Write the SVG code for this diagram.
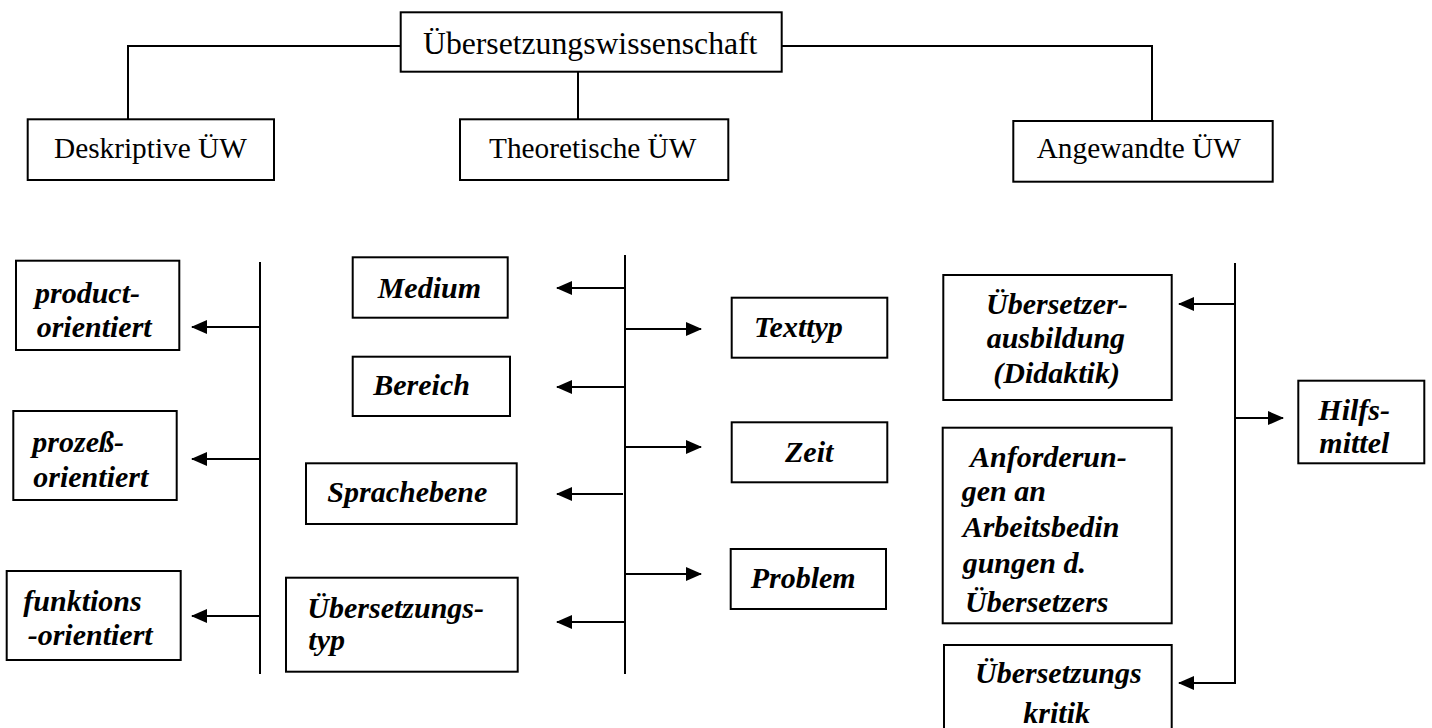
<svg xmlns="http://www.w3.org/2000/svg" width="1432" height="728" viewBox="0 0 1432 728">
<style>
.box{fill:#fff;stroke:#000;stroke-width:2}
.reg{font-family:"Liberation Serif","Times New Roman",serif;font-size:29.3px;fill:#000}
.bi{font-family:"Liberation Serif","Times New Roman",serif;font-size:30px;font-weight:bold;font-style:italic;fill:#000}
.ln{fill:none;stroke:#000;stroke-width:2}
.ar{fill:none;stroke:#000;stroke-width:2;marker-end:url(#ah)}
</style>
<defs>
<marker id="ah" markerUnits="userSpaceOnUse" markerWidth="16" markerHeight="14" refX="15" refY="7" orient="auto">
<path d="M0,0 L16,7 L0,14 Z" fill="#000"/>
</marker>
</defs>
<rect width="1432" height="728" fill="#fff"/>
<g id="connectors">
<path class="ln" d="M128,119 V46 H401"/>
<path class="ln" d="M578,72 V119"/>
<path class="ln" d="M782,46 H1152 V121"/>
<path class="ln" d="M260,262 V674"/>
<path class="ar" d="M260,327 H192"/>
<path class="ar" d="M260,459 H192"/>
<path class="ar" d="M260,616 H192"/>
<path class="ln" d="M625,255 V674"/>
<path class="ar" d="M625,288 H557"/>
<path class="ar" d="M625,387 H557"/>
<path class="ar" d="M623,494 H557"/>
<path class="ar" d="M625,622 H557"/>
<path class="ar" d="M625,329 H701"/>
<path class="ar" d="M625,447 H701"/>
<path class="ar" d="M625,574 H701"/>
<path class="ln" d="M1235,263 V684"/>
<path class="ar" d="M1235,304 H1179"/>
<path class="ar" d="M1235,683 H1179"/>
<path class="ar" d="M1235,418 H1283"/>
</g>
<g id="uew"><rect class="box" x="400.7" y="12.3" width="381" height="59.4"/><text class="reg" x="423" y="54" style="font-size:31.7px">Übersetzungswissenschaft</text></g>
<g id="deskriptiv"><rect class="box" x="27.7" y="119.3" width="246.3" height="60.7"/><text class="reg" x="54" y="158">Deskriptive ÜW</text></g>
<g id="theoretisch"><rect class="box" x="460" y="119.3" width="268.3" height="60.7"/><text class="reg" x="489" y="158">Theoretische ÜW</text></g>
<g id="angewandt"><rect class="box" x="1013.3" y="121" width="259.4" height="60.7"/><text class="reg" x="1036.7" y="158.3">Angewandte ÜW</text></g>
<g id="product"><rect class="box" x="16" y="260.7" width="163.3" height="89.3"/><text class="bi" x="35" y="303.3">product-</text><text class="bi" x="36.7" y="337.3">orientiert</text></g>
<g id="prozess"><rect class="box" x="13.3" y="411" width="163.4" height="89"/><text class="bi" x="32.3" y="451.7">prozeß-</text><text class="bi" x="33.3" y="487.3">orientiert</text></g>
<g id="funktion"><rect class="box" x="6.7" y="571" width="174" height="89"/><text class="bi" x="23.3" y="611">funktions</text><text class="bi" x="27.7" y="645">-orientiert</text></g>
<g id="medium"><rect class="box" x="352.7" y="257.3" width="155" height="60.4"/><text class="bi" x="377.7" y="298.3">Medium</text></g>
<g id="bereich"><rect class="box" x="352.7" y="356.7" width="157.3" height="59.3"/><text class="bi" x="373.3" y="395">Bereich</text></g>
<g id="sprachebene"><rect class="box" x="306" y="463.3" width="210.7" height="60.7"/><text class="bi" x="327.3" y="501.7">Sprachebene</text></g>
<g id="uetyp"><rect class="box" x="286" y="577.7" width="231.7" height="94"/><text class="bi" x="307.3" y="617.7">Übersetzungs-</text><text class="bi" x="308.3" y="650">typ</text></g>
<g id="texttyp"><rect class="box" x="731.7" y="297.7" width="155.6" height="60"/><text class="bi" x="754" y="337.3">Texttyp</text></g>
<g id="zeit"><rect class="box" x="731.7" y="422.3" width="155.6" height="60"/><text class="bi" x="785" y="461.7">Zeit</text></g>
<g id="problem"><rect class="box" x="730.7" y="549" width="155.3" height="60"/><text class="bi" x="750.7" y="588.3">Problem</text></g>
<g id="ausbildung"><rect class="box" x="943.3" y="275" width="228.4" height="125"/><text class="bi" x="986" y="314">Übersetzer-</text><text class="bi" x="986.7" y="348">ausbildung</text><text class="bi" x="993.3" y="382.5">(Didaktik)</text></g>
<g id="anforderungen"><rect class="box" x="942.7" y="427.7" width="229" height="195.6"/><text class="bi" x="970" y="466.7">Anforderun-</text><text class="bi" x="961.7" y="500.7">gen an</text><text class="bi" x="962.7" y="537">Arbeitsbedin</text><text class="bi" x="962.7" y="573.3">gungen d.</text><text class="bi" x="965" y="611.7">Übersetzers</text></g>
<g id="kritik"><rect class="box" x="944" y="645" width="227.7" height="100"/><text class="bi" x="975" y="683.3">Übersetzungs</text><text class="bi" x="1023.3" y="723.3">kritik</text></g>
<g id="hilfsmittel"><rect class="box" x="1298.3" y="380.7" width="126" height="82.6"/><text class="bi" x="1318.3" y="420">Hilfs-</text><text class="bi" x="1319.3" y="453.3">mittel</text></g>
</svg>
